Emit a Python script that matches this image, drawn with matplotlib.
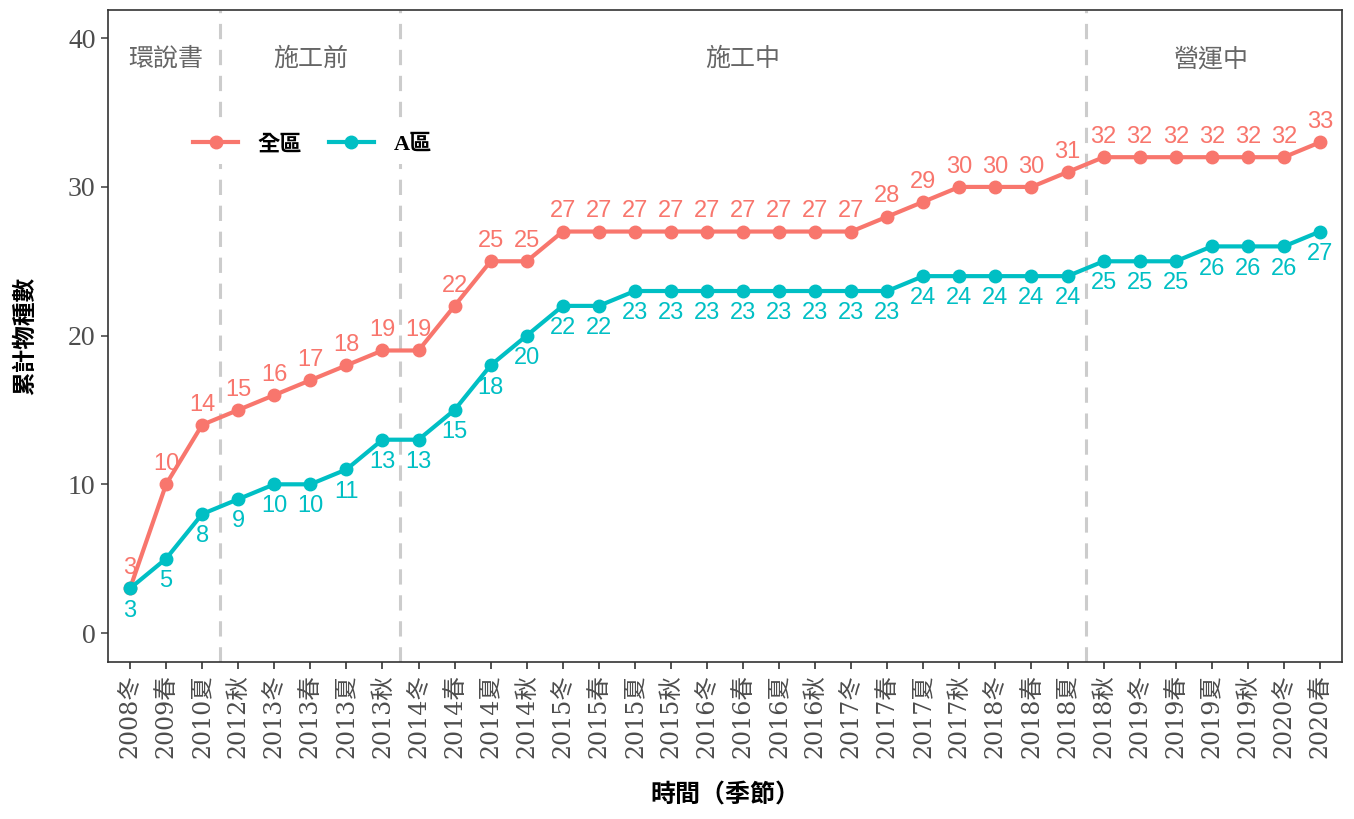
import matplotlib.pyplot as plt
from matplotlib.lines import Line2D

plt.rcParams['font.family'] = ['Liberation Serif', 'Noto Sans CJK TC', 'DejaVu Sans']

seasons = ['2008冬', '2009春', '2010夏', '2012秋', '2013冬', '2013春', '2013夏', '2013秋',
           '2014冬', '2014春', '2014夏', '2014秋', '2015冬', '2015春', '2015夏', '2015秋',
           '2016冬', '2016春', '2016夏', '2016秋', '2017冬', '2017春', '2017夏', '2017秋',
           '2018冬', '2018春', '2018夏', '2018秋', '2019冬', '2019春', '2019夏', '2019秋',
           '2020冬', '2020春']
all_area = [3, 10, 14, 15, 16, 17, 18, 19, 19, 22, 25, 25, 27, 27, 27, 27, 27, 27, 27,
            27, 27, 28, 29, 30, 30, 30, 31, 32, 32, 32, 32, 32, 32, 33]
a_area = [3, 5, 8, 9, 10, 10, 11, 13, 13, 15, 18, 20, 22, 22, 23, 23, 23, 23, 23, 23,
          23, 23, 24, 24, 24, 24, 24, 25, 25, 25, 26, 26, 26, 27]
phase_names = ['環說書', '施工前', '施工中', '營運中']
phase_breaks = [2.5, 7.5, 26.5]
phase_centers = [1, 5, 17, 30]

red = '#F8766D'
teal = '#00BFC4'

fig = plt.figure(figsize=(13.54, 8.19), dpi=100)
ax = fig.add_axes([0.0798, 0.1917, 0.9113, 0.7961])

x = list(range(len(seasons)))
for b in phase_breaks:
    ax.axvline(b, color='#CCCCCC', lw=2.2, ls=(0, (5, 3.5)), zorder=1)

ax.plot(x, all_area, color=red, lw=3, marker='o', ms=9, zorder=3)
ax.plot(x, a_area, color=teal, lw=3, marker='o', ms=9, zorder=3)

lab_font = ['Liberation Sans Narrow', 'Liberation Sans']
for i in x:
    ax.text(i, all_area[i] + 0.62, str(all_area[i]), color=red, fontsize=17,
            family=lab_font, ha='center', va='bottom', zorder=4)
    ax.text(i, a_area[i] - 0.75, str(a_area[i]), color=teal, fontsize=17,
            family=lab_font, ha='center', va='top', zorder=4)

for name, c in zip(phase_names, phase_centers):
    ax.text(c, 38.6, name, color='#666666', fontsize=18, ha='center', va='center',
            family=['Noto Sans CJK TC'])

ax.set_xlim(-0.61, 33.61)
ax.set_ylim(-1.95, 41.9)
ax.set_yticks([0, 10, 20, 30, 40])
ax.set_xticks(x)
ax.set_xticklabels(seasons, rotation=90, fontsize=17, color='#4D4D4D',
                   family=['DejaVu Serif', 'Noto Sans CJK TC'])
ax.tick_params(axis='y', labelsize=20, colors='#4D4D4D', length=5, width=1.2, pad=4)
ax.tick_params(axis='x', length=5, width=1.2, colors='#333333', pad=4)
for lab in ax.get_xticklabels():
    lab.set_color('#4D4D4D')
for s in ax.spines.values():
    s.set_color('#333333')
    s.set_linewidth(1.2)

ax.set_xlabel('時間（季節）', fontsize=18, fontweight='bold', labelpad=18)
ax.set_ylabel('累計物種數', fontsize=17, fontweight='bold', labelpad=22)

handles = [Line2D([0], [0], color=red, lw=3, marker='o', ms=9),
           Line2D([0], [0], color=teal, lw=3, marker='o', ms=9)]
leg = ax.legend(handles, ['全區', 'A區'], loc='center left', bbox_to_anchor=(0.053, 0.793),
                ncol=2, frameon=True, handlelength=2.0, columnspacing=1.2, handletextpad=0.9,
                prop={'family': ['Liberation Serif', 'Noto Sans CJK TC'], 'weight': 'bold', 'size': 16})
leg.get_frame().set_edgecolor('none')
leg.get_frame().set_facecolor('white')
leg.get_frame().set_alpha(1)

fig.savefig('out.png', dpi=100)
